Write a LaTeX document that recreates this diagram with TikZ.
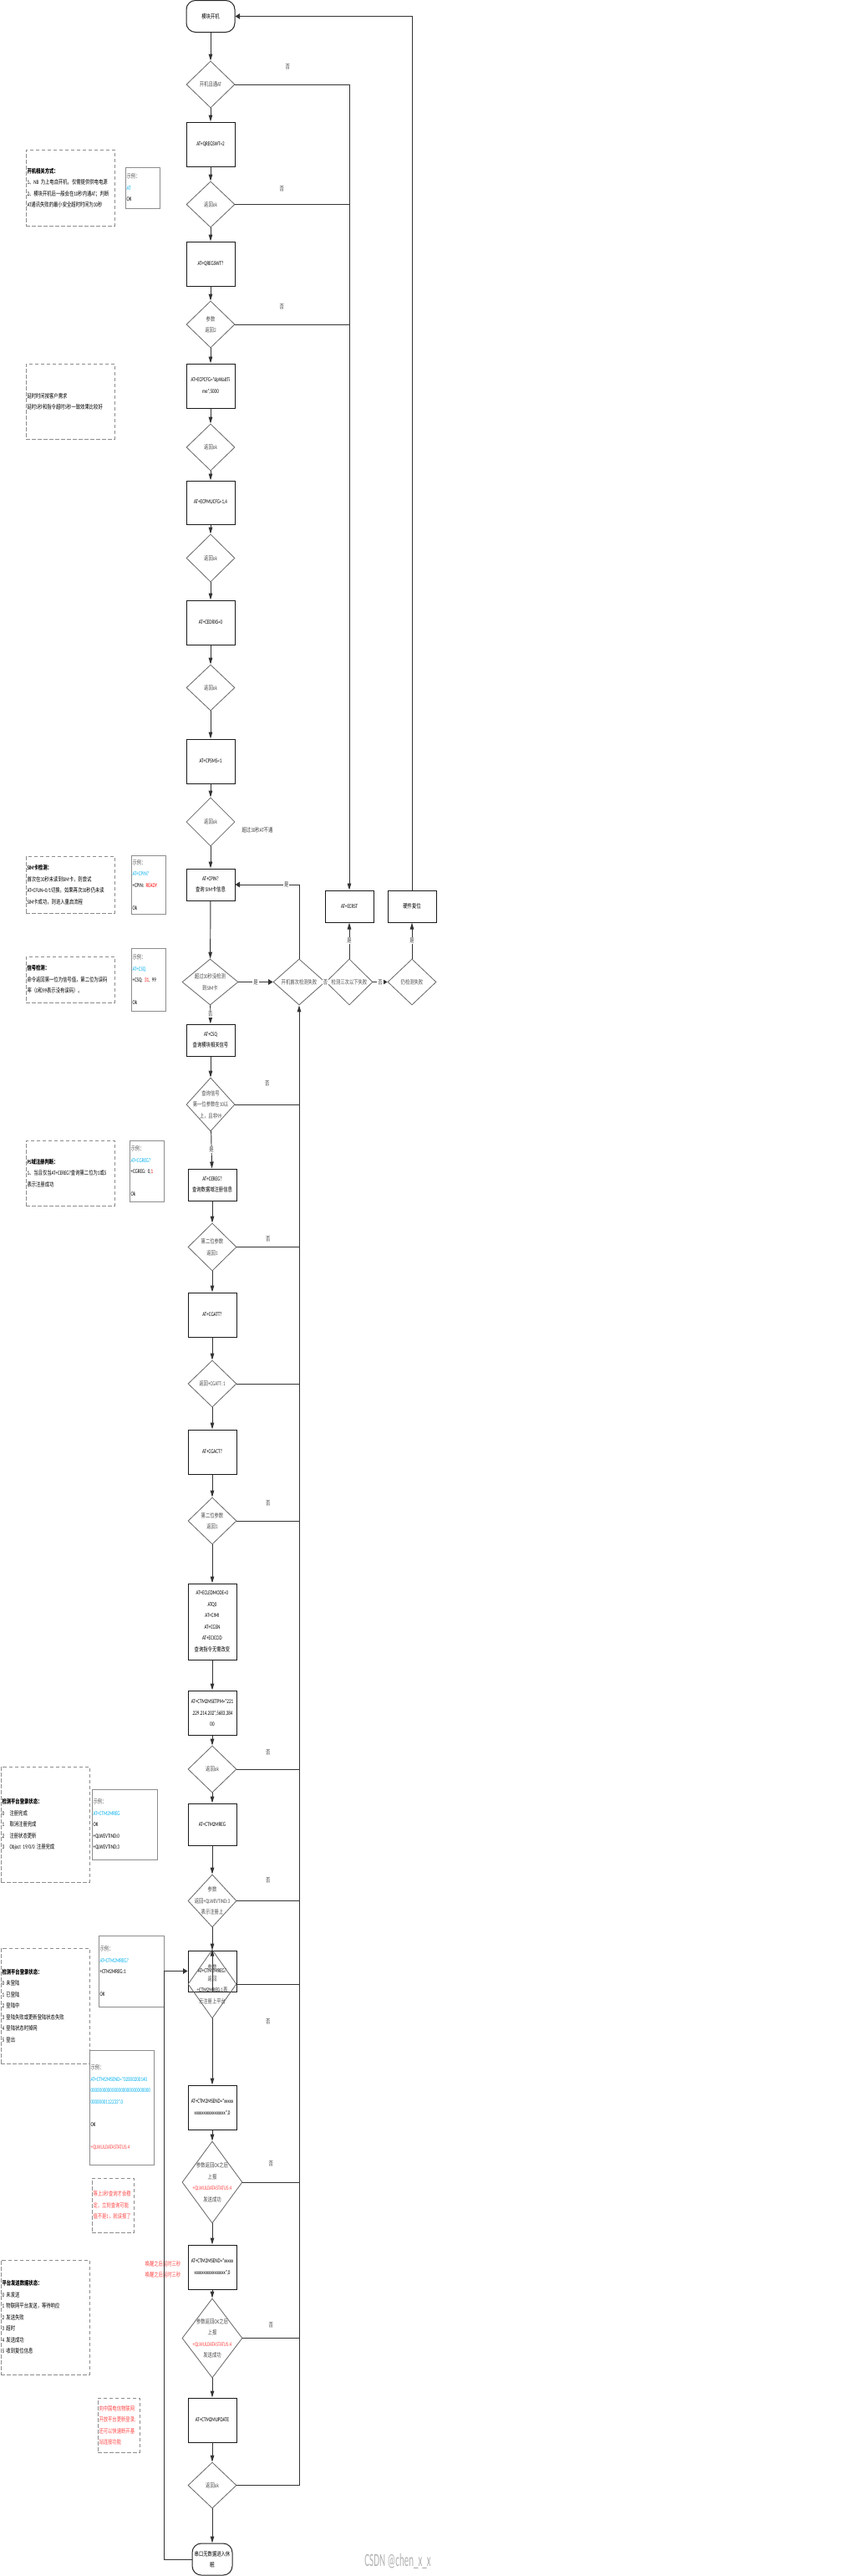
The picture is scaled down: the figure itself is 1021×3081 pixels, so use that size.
\documentclass[tikz,border=0pt]{standalone}
\usepackage{fontspec}
\setmainfont{Carlito}[FakeStretch=0.70]
\newfontfamily\cjkfont{Noto Sans CJK SC}[FakeStretch=0.74]
\newfontfamily\markfont{Carlito}[FakeStretch=0.5]
\usetikzlibrary{shapes.geometric,arrows.meta}

% Chinese characters are set in the CJK family, the rest in Carlito
\newcount\cjkcode
\newXeTeXintercharclass\cjkclass
\def\setcjkrange#1#2{\cjkcode=#1 \loop\XeTeXcharclass\cjkcode=\cjkclass\ifnum\cjkcode<#2 \advance\cjkcode by 1 \repeat}
\setcjkrange{"4E00}{"9FFF}
\setcjkrange{"3000}{"303F}
\setcjkrange{"FF00}{"FFEF}
\XeTeXinterchartokenstate=1
\def\latinfam{\rmfamily}
\XeTeXinterchartoks 0 \cjkclass = {\cjkfont}
\XeTeXinterchartoks 4095 \cjkclass = {\cjkfont}
\XeTeXinterchartoks \cjkclass 0 = {\latinfam}
\XeTeXinterchartoks 4095 0 = {\latinfam}

\definecolor{linecol}{HTML}{333333}
\definecolor{atblue}{HTML}{00B0F0}
\definecolor{atred}{HTML}{FF0000}
\definecolor{notered}{HTML}{FF4B4B}

\tikzset{
  proc/.style={draw=black!90, line width=1pt, minimum width=58pt, minimum height=53pt, inner sep=1pt, align=center},
  term/.style={draw=black!85, line width=1pt, rounded corners=11pt, minimum width=58pt, minimum height=38pt, inner sep=1pt, align=center},
  decision/.style={diamond, draw=black!60, line width=0.8pt, inner sep=0pt, minimum width=58pt},
  dtext/.style={text=black!70, align=center, inner sep=0pt},
  note/.style={draw=black!45, dash pattern=on 4.5pt off 2.5pt, line width=0.8pt, minimum width=106pt, text width=103pt, inner xsep=1.5pt, align=left},
  example/.style={draw=black!45, line width=0.8pt, inner xsep=1.5pt, align=left},
  line/.style={draw=linecol, line width=0.95pt},
  varrow/.style={line, -{Triangle[length=8pt,width=4.5pt]}},
  harrow/.style={line, -{Triangle[length=5.5pt,width=6.5pt]}},
  tag/.style={text=black!75, inner sep=1pt},
  tagbg/.style={tag, fill=white},
}

\begin{document}
\begin{tikzpicture}[x=1pt, y=-1pt, font=\fontsize{7.2}{13.5}\selectfont]
\useasboundingbox (0,0) rectangle (1021,3081);
\fill[white] (0,0) rectangle (1021,3081);

% main column
\node[term] (start) at (252,19.5) {模块开机};
\node[decision, minimum height=56pt, label={[dtext]center:{开机且通AT}}] (d1) at (252,101) {};
\node[proc] (b1) at (252,172.5) {AT+QREGSWT=2};
\node[decision, minimum height=55pt, label={[dtext]center:{返回ok}}] (d2) at (252,244.5) {};
\node[proc] (b2) at (252,315.5) {AT+QREGSWT?};
\node[decision, minimum height=56pt, label={[dtext]center:{参数\\返回2}}] (d3) at (252,388) {};
\node[proc] (b3) at (252,461.5) {AT+ECPCFG="slpWaitTi\\me",5000};
\node[decision, minimum height=56pt, label={[dtext]center:{返回ok}}] (d4) at (252,535) {};
\node[proc, minimum height=52pt] (b4) at (252,601) {AT+ECPMUCFG=1,4};
\node[decision, minimum height=57pt, label={[dtext]center:{返回ok}}] (d5) at (252,667.5) {};
\node[proc] (b5) at (252,744.5) {AT+CEDRXS=0};
\node[decision, minimum height=55pt, label={[dtext]center:{返回ok}}] (d6) at (252,822.5) {};
\node[proc] (b6) at (252,910.5) {AT+CPSMS=1};
\node[decision, minimum height=58pt, label={[dtext]center:{返回ok}}] (d7) at (252,983) {};
\node[tag] (t30) at (308,993) {超过30秒AT不通};
\node[proc, minimum height=38pt] (b7) at (252,1058) {AT+CPIN?\\查询 SIM卡信息};
\node[decision, minimum width=67pt, minimum height=55pt, label={[dtext]center:{超过30秒没检测\\到SIM卡}}] (d8) at (251.5,1174.5) {};

% failure handling
\node[decision, minimum width=62pt, minimum height=55pt, label={[dtext]center:{开机首次检测失败}}] (d9) at (358,1174.5) {};
\node[decision, minimum width=56pt, minimum height=55pt, label={[dtext]center:{检测三次以下失败}}] (d10) at (418,1174.5) {};
\node[decision, minimum height=55pt, label={[dtext]center:{仍检测失败}}] (d11) at (493,1174.5) {};
\node[proc, minimum height=38pt] (ecrst) at (418,1084) {AT+ECRST};
\node[proc, minimum height=38pt] (reset) at (493,1084) {硬件复位};

\node[proc, minimum height=38pt] (b8) at (252,1244) {AT+CSQ\\查询模块相关信号};
\node[decision, minimum height=64pt, label={[dtext]center:{查询信号\\第一位参数在10以\\上，且非99}}] (d12) at (252,1321) {};
\node[proc, minimum height=38pt] (b9) at (254,1417) {AT+CEREG?\\查询数据域注册信息};
\node[decision, minimum height=57pt, label={[dtext]center:{第二位参数\\返回1}}] (d13) at (254,1491.5) {};
\node[proc] (b10) at (254,1572.5) {AT+CGATT?};
\node[decision, minimum height=56pt, label={[dtext]center:{返回+CGATT: 1}}] (d14) at (254,1655) {};
\node[proc] (b11) at (254,1736.5) {AT+CGACT?};
\node[decision, minimum height=56pt, label={[dtext]center:{第二位参数\\返回1}}] (d15) at (254,1819) {};
\node[proc, minimum height=91pt] (b12) at (254,1939.5) {AT+ECLEDMODE=0\\ATQ0\\AT+CIMI\\AT+CGSN\\AT+ECICCID\\查询指令无需改变};
\node[proc] (b13) at (254,2048.5) {AT+CTM2MSETPM="221\\.229.214.202",5683,384\\00};
\node[decision, minimum height=56pt, label={[dtext]center:{返回ok}}] (d16) at (254,2116) {};
\node[proc, minimum height=50pt] (b14) at (254,2182) {AT+CTM2MREG};
\node[decision, minimum height=63pt, label={[dtext]center:{参数\\返回+QLWEVTIND:3\\表示注册上}}] (d17) at (254,2273.5) {};
\node[proc, minimum height=49pt] (b15) at (254,2357.5) {AT+CTM2MREG?};
\node[decision, minimum height=82pt, label={[dtext]center:{参数\\返回\\+\textbf{CTM2MREG}:1表\\示注册上平台}}] (d18) at (254,2373) {};
\node[proc] (b16) at (254,2520.5) {AT+CTM2MSEND="xxxxx\\xxxxxxxxxxxxxxxxx",0};
\node[decision, minimum width=72pt, minimum height=98pt, label={[dtext]center:{参数返回OK之后\\上报\\\textcolor{notered}{+QLWULDATASTATUS:4}\\发送成功}}] (d19) at (254,2610) {};
\node[proc] (b17) at (254,2711.5) {AT+CTM2MSEND="xxxxx\\xxxxxxxxxxxxxxxxx",0};
\node[decision, minimum width=72pt, minimum height=95pt, label={[dtext]center:{参数返回OK之后\\上报\\\textcolor{notered}{+QLWULDATASTATUS:4}\\发送成功}}] (d20) at (254,2796.5) {};
\node[proc] (b18) at (254,2894.5) {AT+CTM2MUPDATE};
\node[decision, minimum height=55pt, label={[dtext]center:{返回ok}}] (d21) at (254,2972.5) {};
\node[term, minimum width=48pt] (end) at (254,3061) {串口无数据进入休\\眠};

% notes and examples on the left
\node[note, minimum height=91pt] (n1) at (84,224.5) {\textbf{开机相关方式：}\\1、NB 为上电自开机，仅需提供供电电源\\2、模块开机后一般会在10秒内通AT；判断\\AT通讯失败的最小安全超时时间为30秒};
\node[example, minimum width=41pt, minimum height=49pt, text width=38pt] (e1) at (170.5,224.5) {\textcolor{black!65}{示例：}\\\textcolor{atblue}{AT}\\OK};
\node[note, minimum height=90pt] (n2) at (84,480) {延时时间按客户需求\\延时5秒和指令超时5秒一致效果比较好};
\node[note, minimum height=68pt] (n3) at (84,1058) {\textbf{SIM卡检测：}\\首次在30秒未读到SIM卡，则尝试\\AT+CFUN=0/1切换，如果再次30秒仍未读\\SIM卡成功，则进入重启流程};
\node[example, minimum width=41pt, minimum height=70pt, text width=38pt] (e2) at (177.5,1058) {\textcolor{black!65}{示例：}\\\textcolor{atblue}{AT+CPIN?}\\+CPIN: \textcolor{atred}{READY}\\[13.5pt]Ok};
\node[note, minimum height=55pt] (n4) at (84,1171.5) {\textbf{信号检测：}\\命令返回第一位为信号值，第二位为误码\\率（0和99表示没有误码）。};
\node[example, minimum width=41pt, minimum height=75pt, text width=38pt] (e3) at (177.5,1171.5) {\textcolor{black!65}{示例：}\\\textcolor{atblue}{AT+CSQ}\\+CSQ: \textcolor{atred}{31}, 99\\[13.5pt]Ok};
\node[note, minimum height=78pt] (n5) at (84,1403) {\textbf{PS域注册判断：}\\1、当且仅当AT+CEREG?查询第二位为1或5\\表示注册成功};
\node[example, minimum width=41pt, minimum height=73pt, text width=38pt] (e4) at (175.5,1400.5) {\textcolor{black!65}{示例：}\\\textcolor{atblue}{AT+CGREG?}\\+CGREG: 0,\textcolor{atred}{1}\\[13.5pt]Ok};
\node[note, minimum height=138pt] (n6) at (54,2182) {\textbf{检测平台登录状态：}\\0\hspace{6.5pt}注册完成\\1\hspace{6.5pt}取消注册完成\\2\hspace{6.5pt}注册状态更新\\3\hspace{6.5pt}Object 19/0/0 注册完成};
\node[example, minimum width=78pt, minimum height=84pt, text width=75pt] (e5) at (149,2182) {\textcolor{black!65}{示例：}\\\textcolor{atblue}{AT+CTM2MREG}\\OK\\+QLWEVTIND:0\\+QLWEVTIND:3};
\node[note, minimum height=138pt] (n7) at (54,2399) {\textbf{检测平台登录状态：}\\0 未登陆\\1 已登陆\\2 登陆中\\3 登陆失败或更新登陆状态失败\\4 登陆状态时掉网\\5 登出};
\node[example, minimum width=78pt, minimum height=85pt, text width=75pt] (e6) at (157,2357.5) {\textcolor{black!65}{示例：}\\\textcolor{atblue}{AT+CTM2MREG?}\\+CTM2MREG:1\\[13.5pt]OK};
\node[example, minimum width=77pt, minimum height=137pt, text width=74pt] (e7) at (145.5,2520.5) {\textcolor{black!65}{示例：}\\\textcolor{atblue}{AT+CTM2MSEND="02000200140}\\\textcolor{atblue}{0000000000000000000000000000}\\\textcolor{atblue}{0000000112233",0}\\[13.5pt]OK\\[13.5pt]\textcolor{notered}{+QLWULDATASTATUS:4}};
\node[note, text=notered, minimum width=50pt, text width=47pt, minimum height=65pt] (w1) at (135,2637.5) {等上3秒查询才会稳\\定，立刻查询可能\\值不是1，就误报了};
\node[tag, text=notered, align=right] (wake) at (195,2714) {唤醒之后延时三秒\\唤醒之后延时三秒};
\node[note, minimum height=137pt] (n8) at (54,2771.5) {\textbf{平台发送数据状态：}\\0 未发送\\1 物联网平台发送，等待响应\\2 发送失败\\3 超时\\4 发送成功\\5 收到复位信息};
\node[note, text=notered, minimum width=50pt, text width=47pt, minimum height=65pt] (w2) at (142,2900.5) {向中国电信物联网\\开放平台更新登录,\\还可以快速断开基\\站连接功能};
\node[text=black!30, font=\fontsize{22}{22}\selectfont] (mark) at (476,3063) {\def\latinfam{\markfont}\markfont CSDN @chen\_x\_x};

% main flow
\draw[varrow] (start) -- (d1);
\draw[varrow] (d1) -- (b1);
\draw[varrow] (b1) -- (d2);
\draw[varrow] (d2) -- (b2);
\draw[varrow] (b2) -- (d3);
\draw[varrow] (d3) -- (b3);
\draw[varrow] (b3) -- (d4);
\draw[varrow] (d4) -- (b4);
\draw[varrow] (b4) -- (d5);
\draw[varrow] (d5) -- (b5);
\draw[varrow] (b5) -- (d6);
\draw[varrow] (d6) -- (b6);
\draw[varrow] (b6) -- (d7);
\draw[varrow] (d7) -- (b7);
\draw[varrow] (b7) -- (d8);
\draw[varrow] (d8) -- node[tagbg]{否} (b8);
\draw[varrow] (b8) -- (d12);
\draw[varrow] (d12) -- node[tagbg]{是} (b9);
\draw[varrow] (b9) -- (d13);
\draw[varrow] (d13) -- (b10);
\draw[varrow] (b10) -- (d14);
\draw[varrow] (d14) -- (b11);
\draw[varrow] (b11) -- (d15);
\draw[varrow] (d15) -- (b12);
\draw[varrow] (b12) -- (b13);
\draw[varrow] (b13) -- (d16);
\draw[varrow] (d16) -- (b14);
\draw[varrow] (b14) -- (d17);
\draw[varrow] (d17) -- (b15);
\draw[varrow] (b15.south) -- (d18.north);
\draw[varrow] (d18) -- (b16);
\draw[varrow] (b16) -- (d19);
\draw[varrow] (d19) -- (b17);
\draw[varrow] (b17) -- (d20);
\draw[varrow] (d20) -- (b18);
\draw[varrow] (b18) -- (d21);
\draw[varrow] (d21) -- (end);

% SIM failure branch
\draw[harrow] (d8) -- node[tagbg]{是} (d9);
\draw[line] (d9) -- node[tagbg]{否} (d10);
\draw[harrow] (d10) -- node[tagbg]{否} (d11);
\draw[varrow] (d10) -- node[tagbg]{是} (ecrst);
\draw[varrow] (d11) -- node[tagbg]{是} (reset);
\draw[harrow] (d9.north) |- node[tagbg, pos=0.6]{是} (b7.east);
\draw[harrow] (reset.north) |- (start.east);

% AT failures go to AT+ECRST
\draw[varrow] (d1.east) -| node[tag, pos=0.23, yshift=21pt]{否} (ecrst.north);
\draw[line] (d2.east) -- node[tag, pos=0.41, yshift=19pt]{否} (d2.east -| ecrst.north);
\draw[line] (d3.east) -- node[tag, pos=0.41, yshift=21pt]{否} (d3.east -| ecrst.north);

% later failures go back to the first check
\draw[varrow] (d21.east) -| (d9.south);
\draw[line] (d12.east) -- node[tag, yshift=25pt]{否} (d12.east -| d9.south);
\draw[line] (d13.east) -- node[tag, yshift=9.5pt]{否} (d13.east -| d9.south);
\draw[line] (d14.east) -- (d14.east -| d9.south);
\draw[line] (d15.east) -- node[tag, yshift=21pt]{否} (d15.east -| d9.south);
\draw[line] (d16.east) -- node[tag, yshift=20pt]{否} (d16.east -| d9.south);
\draw[line] (d17.east) -- node[tag, yshift=25pt]{否} (d17.east -| d9.south);
\draw[line] (d18.east) -- node[tag, yshift=-45pt]{否} (d18.east -| d9.south);
\draw[line] (d19.east) -- node[tag, yshift=22pt]{否} (d19.east -| d9.south);
\draw[line] (d20.east) -- node[tag, yshift=16pt]{否} (d20.east -| d9.south);

% sleep and query the platform again
\coordinate (back) at (196,3061);
\draw[harrow] (end.west) -- (back) |- (b15.west);
\end{tikzpicture}
\end{document}
